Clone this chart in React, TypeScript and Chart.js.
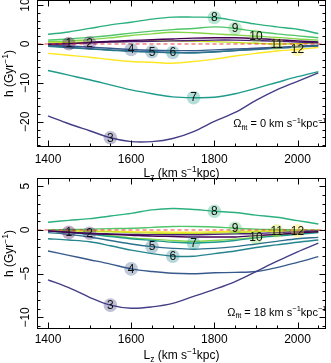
import React, { useEffect, useRef } from "react";
import { Chart, registerables } from "chart.js";
Chart.register(...registerables);

// ---------- data ----------
const LZ = [1400, 1450, 1500, 1550, 1600, 1650, 1700, 1750, 1800, 1850, 1900, 1950, 2000, 2050];
const LABEL_LZ = [1450, 1500, 1550, 1600, 1650, 1700, 1750, 1800, 1850, 1900, 1950, 2000];
const LABELS = ["1", "2", "3", "4", "5", "6", "7", "8", "9", "10", "11", "12"];
const COLORS = ["#440154", "#482173", "#433E85", "#38598C", "#2D708E", "#25858E", "#1E9B8A", "#2BB07F", "#51C56A", "#85D54A", "#C2DF23", "#FDE725"];
const X_TICKS = [1400, 1600, 1800, 2000];
const TOP_Y_TICKS = [10, 0, -10, -20];
const BOT_Y_TICKS = [5, 0, -5, -10];

// Omega_fit = 0
const top1 = [-0.1, 0.1, 0.4, 0.7, 0.9, 1.1, 1.3, 1.5, 1.6, 1.6, 1.4, 1.1, 0.8, 0.5];
const top2 = [0.0, 0.1, 0.3, 0.5, 0.6, 0.7, 0.8, 0.9, 1.0, 1.0, 0.9, 0.7, 0.5, 0.3];
const top3 = [-18.5, -20.5, -22.3, -24.1, -25.1, -25.1, -24.3, -22.5, -19.9, -17.6, -14.5, -11.8, -9.6, -7.4];
const top4 = [-0.3, -0.5, -0.8, -1.1, -1.4, -1.6, -1.7, -1.7, -1.5, -1.3, -1.1, -0.8, -0.6, -0.4];
const top5 = [-0.5, -0.8, -1.2, -1.5, -1.8, -2.0, -2.2, -2.2, -2.0, -1.7, -1.4, -1.1, -0.8, -0.5];
const top6 = [-0.6, -1.0, -1.3, -1.6, -1.9, -2.1, -2.2, -2.3, -2.1, -1.7, -1.3, -1.0, -0.6, -0.3];
const top7 = [-6.8, -8.0, -9.2, -10.5, -11.8, -12.8, -13.6, -13.8, -13.7, -12.8, -11.4, -9.9, -8.4, -7.1];
const top8 = [2.5, 3.1, 4.0, 4.9, 5.6, 6.4, 6.9, 6.9, 6.8, 6.0, 5.1, 4.4, 3.8, 2.7];
const top9 = [1.0, 1.3, 1.7, 2.2, 2.8, 3.3, 3.7, 4.0, 4.4, 4.0, 3.2, 2.6, 2.1, 1.6];
const top10 = [0.6, 0.8, 1.1, 1.6, 2.2, 2.6, 3.0, 2.9, 2.6, 2.3, 2.0, 1.7, 1.3, 1.0];
const top11 = [0.3, 0.4, 0.5, 0.6, 0.7, 0.8, 0.8, 0.7, 0.6, 0.4, 0.2, 0.0, 0.1, 0.3];
const top12 = [-2.4, -2.9, -3.4, -4.0, -4.5, -4.7, -4.95, -4.5, -3.9, -3.1, -2.4, -1.8, -1.4, -0.9];

// Omega_fit = 18
const bot1 = [-0.1, -0.27, -0.4, -0.5, -0.6, -0.7, -0.75, -0.8, -0.8, -0.8, -0.65, -0.5, -0.35, -0.2];
const bot2 = [-0.1, -0.25, -0.38, -0.45, -0.5, -0.55, -0.55, -0.55, -0.5, -0.45, -0.4, -0.3, -0.2, -0.1];
const bot3 = [-5.7, -6.6, -7.7, -8.6, -8.95, -8.8, -8.4, -7.6, -6.8, -5.9, -4.75, -3.6, -2.5, -1.5];
const bot4 = [-2.4, -2.9, -3.4, -3.9, -4.45, -4.75, -4.95, -5.0, -4.9, -4.85, -4.75, -4.3, -3.7, -3.05];
const bot5 = [-0.3, -0.5, -0.8, -1.2, -1.6, -1.9, -2.1, -2.2, -2.1, -1.9, -1.6, -1.3, -1.0, -0.85];
const bot6 = [-1.0, -1.15, -1.35, -1.8, -2.3, -2.7, -3.0, -3.0, -2.7, -2.4, -2.0, -1.7, -1.4, -1.15];
const bot7 = [-0.1, -0.3, -0.5, -0.75, -1.0, -1.2, -1.4, -1.5, -1.4, -1.2, -0.9, -0.7, -0.5, -0.3];
const bot8 = [0.88, 1.1, 1.3, 1.6, 1.9, 2.3, 2.45, 2.35, 2.15, 2.0, 1.7, 1.45, 1.07, 0.69];
const bot9 = [0.0, 0.05, 0.1, 0.15, 0.2, 0.3, 0.4, 0.4, 0.35, 0.2, 0.1, 0.05, 0.0, -0.05];
const bot10 = [-0.1, -0.25, -0.4, -0.65, -0.9, -1.05, -1.2, -1.3, -1.2, -1.05, -0.85, -0.6, -0.4, -0.2];
const bot11 = [-0.05, -0.1, -0.15, -0.2, -0.3, -0.35, -0.4, -0.4, -0.35, -0.3, -0.2, -0.1, -0.05, 0.0];
const bot12 = [0.0, -0.05, -0.1, -0.15, -0.2, -0.22, -0.25, -0.25, -0.2, -0.15, -0.1, -0.1, -0.1, -0.05];

const TOP_SERIES = [top1, top2, top3, top4, top5, top6, top7, top8, top9, top10, top11, top12];
const BOT_SERIES = [bot1, bot2, bot3, bot4, bot5, bot6, bot7, bot8, bot9, bot10, bot11, bot12];

const FONT = '"Liberation Sans", Arial, Helvetica, sans-serif';
const W = 331;
const H = 363;

type Part = [string, number, number]; // text, size, dy

function partsWidth(ctx: CanvasRenderingContext2D, parts: Part[]) {
  let w = 0;
  for (const [t, s] of parts) {
    ctx.font = `${s}px ${FONT}`;
    w += ctx.measureText(t).width;
  }
  return w;
}
function drawParts(ctx: CanvasRenderingContext2D, parts: Part[], x: number, y: number) {
  let cx = x;
  ctx.textAlign = "left";
  ctx.textBaseline = "alphabetic";
  for (const [t, s, dy] of parts) {
    ctx.font = `${s}px ${FONT}`;
    ctx.fillText(t, cx, y + dy);
    cx += ctx.measureText(t).width;
  }
}

interface PanelCfg {
  series: number[][];
  yMin: number;
  yMax: number;
  pad: { left: number; right: number; top: number; bottom: number };
  yTicks: number[];
  yMinorStep: number;
  omega: string;
  annBaseline: number;
  tickLabelY: number;
  titleY: number;
}

function makePlugin(cfg: PanelCfg) {
  return {
    id: "panelDecor",
    afterDraw(chart: any) {
      const ctx: CanvasRenderingContext2D = chart.ctx;
      const a = chart.chartArea;
      const xs = chart.scales.x;
      const ys = chart.scales.y;
      ctx.save();
      // zero line
      const y0 = ys.getPixelForValue(0);
      ctx.beginPath();
      ctx.setLineDash([4, 3]);
      ctx.strokeStyle = "rgba(235,45,45,0.9)";
      ctx.lineWidth = 1;
      ctx.moveTo(a.left, y0);
      ctx.lineTo(a.right, y0);
      ctx.stroke();
      ctx.setLineDash([]);

      // curve labels
      cfg.series.forEach((s, i) => {
        const k = LZ.indexOf(LABEL_LZ[i]);
        const px = xs.getPixelForValue(LABEL_LZ[i]);
        const py = ys.getPixelForValue(s[k]);
        ctx.beginPath();
        ctx.arc(px, py, 6.8, 0, Math.PI * 2);
        ctx.fillStyle = COLORS[i] + "55";
        ctx.fill();
        ctx.fillStyle = "#111";
        ctx.font = `12px ${FONT}`;
        ctx.textAlign = "center";
        ctx.textBaseline = "middle";
        ctx.fillText(LABELS[i], px, py + 0.5);
      });

      // frame
      ctx.strokeStyle = "#000";
      ctx.lineWidth = 1;
      ctx.strokeRect(a.left, a.top, a.right - a.left, a.bottom - a.top);

      // x ticks (top & bottom, inward)
      ctx.beginPath();
      for (let v = 1400; v <= 2050; v += 50) {
        const px = Math.round(xs.getPixelForValue(v)) + 0.5;
        const len = v % 200 === 0 ? 6 : 3;
        ctx.moveTo(px, a.bottom);
        ctx.lineTo(px, a.bottom - len);
        ctx.moveTo(px, a.top);
        ctx.lineTo(px, a.top + len);
      }
      // y ticks (left & right, inward)
      const start = Math.ceil(cfg.yMin / cfg.yMinorStep) * cfg.yMinorStep;
      for (let v = start; v <= cfg.yMax; v += cfg.yMinorStep) {
        const py = Math.round(ys.getPixelForValue(v)) + 0.5;
        const len = cfg.yTicks.includes(Math.round(v * 100) / 100) ? 6 : 3;
        ctx.moveTo(a.left, py);
        ctx.lineTo(a.left + len, py);
        ctx.moveTo(a.right, py);
        ctx.lineTo(a.right - len, py);
      }
      ctx.stroke();

      // x tick labels
      ctx.fillStyle = "#000";
      ctx.font = `12px ${FONT}`;
      ctx.textAlign = "center";
      ctx.textBaseline = "middle";
      X_TICKS.forEach((v) => {
        ctx.fillText(String(v), xs.getPixelForValue(v), cfg.tickLabelY);
      });
      // y tick labels (rotated)
      cfg.yTicks.forEach((v) => {
        const py = ys.getPixelForValue(v);
        ctx.save();
        ctx.translate(25.5, py);
        ctx.rotate(-Math.PI / 2);
        ctx.font = `12px ${FONT}`;
        ctx.textAlign = "center";
        ctx.textBaseline = "middle";
        ctx.fillText(v < 0 ? "\u2212" + Math.abs(v) : String(v), 0, 0);
        ctx.restore();
      });

      // x title
      const xt: Part[] = [["L", 12, 0], ["z", 8.5, 3], [" (km s", 12, 0], ["\u22121", 8.5, -5], ["kpc)", 12, 0]];
      const xw = partsWidth(ctx, xt);
      drawParts(ctx, xt, (a.left + a.right) / 2 - xw / 2, cfg.titleY);

      // y title
      const yt: Part[] = [["h (Gyr", 12, 0], ["\u22121", 8.5, -5], [")", 12, 0]];
      const yw = partsWidth(ctx, yt);
      ctx.save();
      ctx.translate(12.5, (a.top + a.bottom) / 2);
      ctx.rotate(-Math.PI / 2);
      drawParts(ctx, yt, -yw / 2, 0);
      ctx.restore();

      // annotation
      const at: Part[] = [
        ["\u03A9", 11, 0],
        ["fit", 7.5, 2.5],
        [` = ${cfg.omega} km s`, 11, 0],
        ["\u22121", 7.5, -4.5],
        ["kpc", 11, 0],
        ["\u22121", 7.5, -4.5],
      ];
      const aw = partsWidth(ctx, at);
      drawParts(ctx, at, a.right - aw + 1, cfg.annBaseline);
      ctx.restore();
    },
  };
}

function buildChart(canvas: HTMLCanvasElement, cfg: PanelCfg) {
  const xMin = 1374.75;
  const xMax = 2067.3;
  return new Chart(canvas, {
    type: "line",
    data: {
      datasets: cfg.series.map((s, i) => ({
        label: LABELS[i],
        data: s.map((v, j) => ({ x: LZ[j], y: v })),
        borderColor: COLORS[i],
        borderWidth: 1.4,
        pointRadius: 0,
        tension: 0.35,
        fill: false,
      })),
    },
    options: {
      animation: false,
      responsive: false,
      maintainAspectRatio: false,
      devicePixelRatio: 1,
      layout: { padding: cfg.pad },
      scales: {
        x: { type: "linear", min: xMin, max: xMax, display: false },
        y: { type: "linear", min: cfg.yMin, max: cfg.yMax, display: false },
      },
      plugins: { legend: { display: false }, tooltip: { enabled: false } },
      events: [],
    },
    plugins: [makePlugin(cfg)],
  } as any);
}

export default function App() {
  const topRef = useRef<HTMLCanvasElement>(null);
  const botRef = useRef<HTMLCanvasElement>(null);
  useEffect(() => {
    const c1 = buildChart(topRef.current!, {
      series: TOP_SERIES,
      yMin: -26.35,
      yMax: 11.18,
      pad: { left: 37.5, right: 5.5, top: 0.5, bottom: H - 146.5 },
      yTicks: TOP_Y_TICKS,
      yMinorStep: 2,
      omega: "0",
      annBaseline: 127,
      tickLabelY: 160,
      titleY: 177,
    });
    const c2 = buildChart(botRef.current!, {
      series: BOT_SERIES,
      yMin: -11.27,
      yMax: 5.89,
      pad: { left: 37.5, right: 5.5, top: 178.5, bottom: H - 328.5 },
      yTicks: BOT_Y_TICKS,
      yMinorStep: 1,
      omega: "18",
      annBaseline: 315.5,
      tickLabelY: 339.5,
      titleY: 359,
    });
    return () => {
      c1.destroy();
      c2.destroy();
    };
  }, []);
  const cs: React.CSSProperties = { position: "absolute", left: 0, top: 0, width: W, height: H };
  return (
    <div style={{ position: "fixed", left: 0, top: 0, width: W, height: H, background: "#fff", overflow: "hidden" }}>
      <canvas ref={topRef} width={W} height={H} style={cs} />
      <canvas ref={botRef} width={W} height={H} style={cs} />
    </div>
  );
}
